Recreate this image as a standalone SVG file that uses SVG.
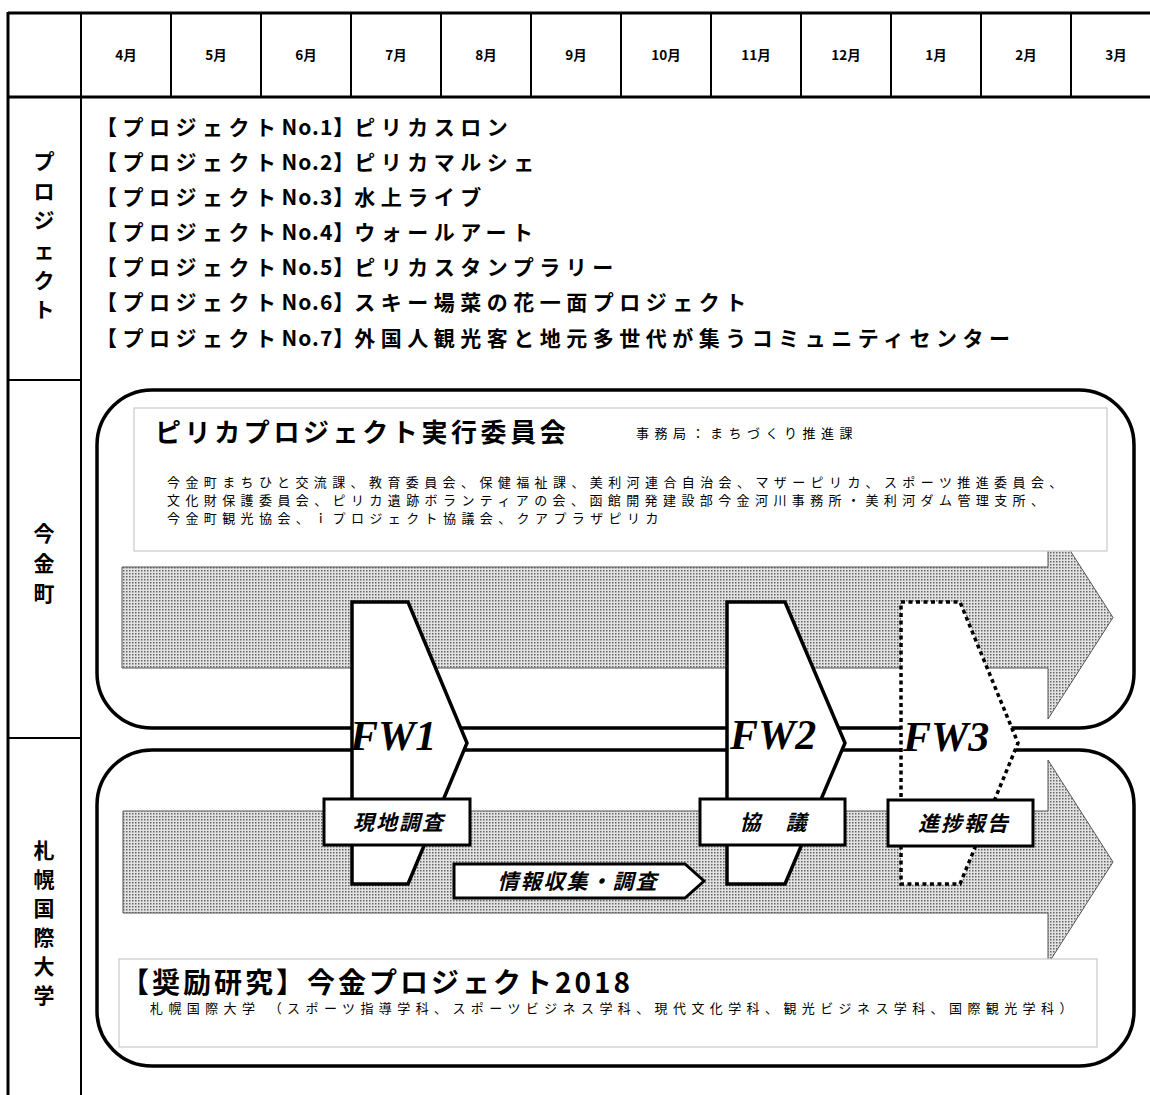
<svg xmlns="http://www.w3.org/2000/svg" width="1150" height="1095" viewBox="0 0 1150 1095">
<defs>
<pattern id="dots" width="3" height="3" patternUnits="userSpaceOnUse">
<rect width="3" height="3" fill="#e2e2e2"/>
<rect width="1.5" height="1.5" fill="#666"/>
</pattern>
<style>
.jp{font-family:"Noto Sans CJK JP","Noto Sans CJK SC",sans-serif;fill:#000}
.b{font-weight:bold}
.mon{font-size:13.5px;font-weight:bold;text-anchor:middle}
.side{font-size:21px;font-weight:bold;text-anchor:middle}
.proj{font-size:21px;font-weight:bold;letter-spacing:5.5px}
.tight{letter-spacing:1px}
.none{letter-spacing:0px}
.small{font-size:13px;letter-spacing:5.4px}
.lbl{font-size:21px;font-weight:bold;font-style:italic;text-anchor:middle;letter-spacing:2px}
.fw{font-family:"Liberation Serif",serif;font-weight:bold;font-style:italic;font-size:42px;fill:#000}
.thick{stroke:#000;stroke-width:3;fill:none}
.thin{stroke:#000;stroke-width:2;fill:none}
.box{fill:none;stroke:#000;stroke-width:3.5}
.wbox{fill:#fff;stroke:#c8c8c8;stroke-width:1.2}
.arrow{fill:url(#dots);stroke:#555;stroke-width:1}
.fwshape{fill:#fff;stroke:#000;stroke-width:3.5;stroke-linejoin:miter}
.lblbox{fill:#fff;stroke:#000;stroke-width:3}
</style>
</defs>
<rect width="1150" height="1095" fill="#fff"/>

<g id="table">
<line class="thick" x1="8" y1="13" x2="1150" y2="13"/>
<line class="thick" x1="8" y1="97" x2="1150" y2="97"/>
<line class="thick" x1="8" y1="12" x2="8" y2="1095"/>
<line class="thin" x1="81" y1="13" x2="81" y2="1095"/>
<line class="thin" x1="8" y1="380" x2="81" y2="380"/>
<line class="thin" x1="8" y1="738" x2="81" y2="738"/>
<line class="thin" x1="171" y1="13" x2="171" y2="97"/>
<line class="thin" x1="261" y1="13" x2="261" y2="97"/>
<line class="thin" x1="351" y1="13" x2="351" y2="97"/>
<line class="thin" x1="441" y1="13" x2="441" y2="97"/>
<line class="thin" x1="531" y1="13" x2="531" y2="97"/>
<line class="thin" x1="621" y1="13" x2="621" y2="97"/>
<line class="thin" x1="711" y1="13" x2="711" y2="97"/>
<line class="thin" x1="801" y1="13" x2="801" y2="97"/>
<line class="thin" x1="891" y1="13" x2="891" y2="97"/>
<line class="thin" x1="981" y1="13" x2="981" y2="97"/>
<line class="thin" x1="1071" y1="13" x2="1071" y2="97"/>
</g>

<g id="months" class="jp">
<text class="mon" x="126" y="60">4月</text>
<text class="mon" x="216" y="60">5月</text>
<text class="mon" x="306" y="60">6月</text>
<text class="mon" x="396" y="60">7月</text>
<text class="mon" x="486" y="60">8月</text>
<text class="mon" x="576" y="60">9月</text>
<text class="mon" x="666" y="60">10月</text>
<text class="mon" x="756" y="60">11月</text>
<text class="mon" x="846" y="60">12月</text>
<text class="mon" x="936" y="60">1月</text>
<text class="mon" x="1026" y="60">2月</text>
<text class="mon" x="1116" y="60">3月</text>
</g>

<g id="row-labels" class="jp">
<text class="side" x="44" y="169">プ</text>
<text class="side" x="44" y="199">ロ</text>
<text class="side" x="44" y="228">ジ</text>
<text class="side" x="44" y="258">ェ</text>
<text class="side" x="44" y="288">ク</text>
<text class="side" x="44" y="317">ト</text>
<text class="side" x="44" y="541">今</text>
<text class="side" x="44" y="571">金</text>
<text class="side" x="44" y="601">町</text>
<text class="side" x="44" y="858">札</text>
<text class="side" x="44" y="887">幌</text>
<text class="side" x="44" y="916">国</text>
<text class="side" x="44" y="945">際</text>
<text class="side" x="44" y="974">大</text>
<text class="side" x="44" y="1003">学</text>
</g>

<g id="projects" class="jp">
<text class="proj" x="96" y="135">【プロジェクト<tspan class="tight">No.1</tspan><tspan class="none">】</tspan>ピリカスロン</text>
<text class="proj" x="96" y="170">【プロジェクト<tspan class="tight">No.2</tspan><tspan class="none">】</tspan>ピリカマルシェ</text>
<text class="proj" x="96" y="205">【プロジェクト<tspan class="tight">No.3</tspan><tspan class="none">】</tspan>水上ライブ</text>
<text class="proj" x="96" y="240">【プロジェクト<tspan class="tight">No.4</tspan><tspan class="none">】</tspan>ウォールアート</text>
<text class="proj" x="96" y="275">【プロジェクト<tspan class="tight">No.5</tspan><tspan class="none">】</tspan>ピリカスタンプラリー</text>
<text class="proj" x="96" y="310">【プロジェクト<tspan class="tight">No.6</tspan><tspan class="none">】</tspan>スキー場菜の花一面プロジェクト</text>
<text class="proj" x="96" y="346">【プロジェクト<tspan class="tight">No.7</tspan><tspan class="none">】</tspan>外国人観光客と地元多世代が集うコミュニティセンター</text>
</g>

<g id="imakane-box">
<rect class="box" x="97" y="390" width="1037" height="338" rx="55" ry="55"/>
</g>
<g id="sapporo-box">
<rect class="box" x="97" y="750" width="1037" height="316" rx="55" ry="55"/>
</g>

<g id="connectors">
<path id="imakane-arrow" class="arrow" d="M122,567 H1048 V516 L1113,617.5 L1048,719 V668 H122 Z"/>
<path id="sapporo-arrow" class="arrow" d="M123,811 H1048 V760 L1113,862 L1048,964 V913 H123 Z"/>
</g>

<g id="committee" class="jp">
<rect class="wbox" x="134" y="408" width="973" height="143"/>
<text class="b" x="155" y="442" font-size="26" letter-spacing="3.6">ピリカプロジェクト実行委員会</text>
<text x="636" y="438" font-size="13" letter-spacing="5.5">事務局：まちづくり推進課</text>
<text class="small" x="167" y="487">今金町まちひと交流課、教育委員会、保健福祉課、美利河連合自治会、マザーピリカ、スポーツ推進委員会、</text>
<text class="small" x="167" y="505">文化財保護委員会、ピリカ遺跡ボランティアの会、函館開発建設部今金河川事務所・美利河ダム管理支所、</text>
<text class="small" x="167" y="523">今金町観光協会、ｉプロジェクト協議会、クアプラザピリカ</text>
</g>

<g id="research" class="jp">
<rect class="wbox" x="119" y="959" width="978" height="88"/>
<text class="b" x="121" y="993" font-size="28" letter-spacing="3">【奨励研究】今金プロジェクト2018</text>
<text class="small" x="150" y="1013" letter-spacing="5.1">札幌国際大学 （スポーツ指導学科、スポーツビジネス学科、現代文化学科、観光ビジネス学科、国際観光学科）</text>
</g>

<g id="fw1">
<path class="fwshape" d="M352,602 H408 L467,743 L408,884 H352 Z"/>
<text class="fw" x="350" y="750">FW1</text>
</g>
<g id="fw2">
<path class="fwshape" d="M727,602 H785 L845,743 L785,884 H727 Z"/>
<text class="fw" x="730" y="749">FW2</text>
</g>
<g id="fw3">
<path class="fwshape" d="M901,602 H960 L1018,743 L960,884 H901 Z" stroke-dasharray="4 3.5"/>
<text class="fw" x="903" y="751">FW3</text>
</g>

<g id="survey" class="jp">
<rect class="lblbox" x="324" y="799" width="146" height="46"/>
<text class="lbl" x="399" y="830">現地調査</text>
</g>
<g id="discussion" class="jp">
<rect class="lblbox" x="700" y="799" width="145" height="46"/>
<text class="lbl" x="774" y="830">協　議</text>
</g>
<g id="progress" class="jp">
<rect class="lblbox" x="888" y="800" width="145" height="46"/>
<text class="lbl" x="964" y="831">進捗報告</text>
</g>
<g id="info" class="jp">
<path class="lblbox" d="M454,864 H685 L704,881 L685,898 H454 Z"/>
<text class="lbl" x="578" y="889">情報収集・調査</text>
</g>
</svg>
